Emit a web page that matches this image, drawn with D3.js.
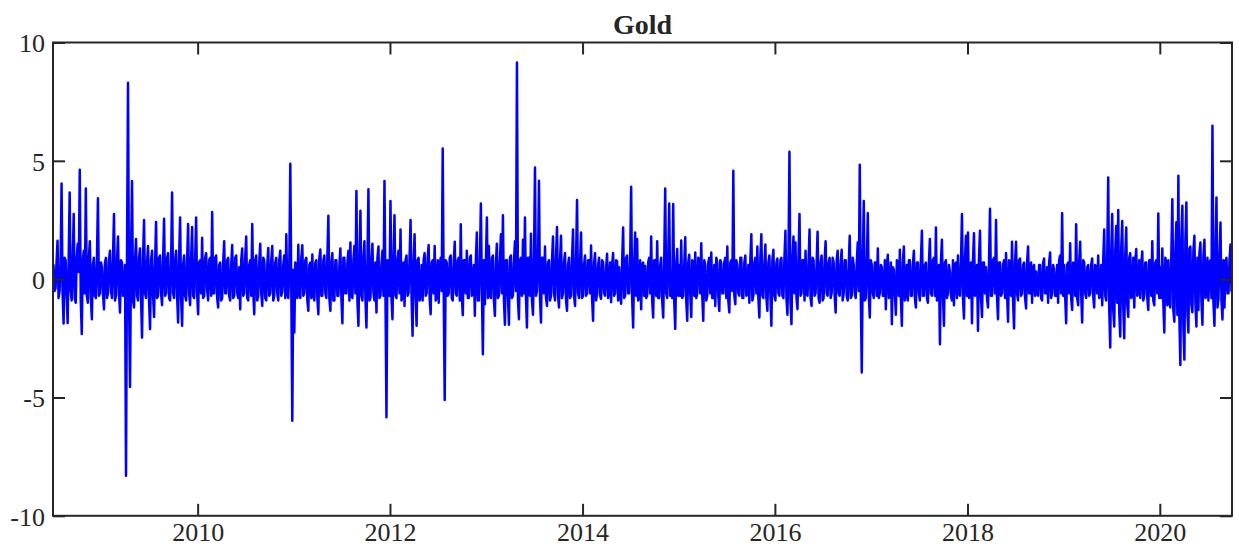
<!DOCTYPE html>
<html>
<head>
<meta charset="utf-8">
<script src="https://cdn.jsdelivr.net/npm/d3@7"></script>
<style>
  body { margin: 0; background: #fff; }
  svg text { font-family: "Liberation Serif", "Times New Roman", serif; fill: #262626; }
</style>
</head>
<body>
<div id="chart"></div>
<script>
// daily gold returns (a value every two or three trading days)
const gold2008 = [0.6, -0.5, -0.4, 0.7, 1.62, -0.8, -0.5, 0.6, 4.04, -0.6, -1.87, 0.9,
  0.8, -0.7, -1.85, 0.8, 3.66, -0.5, -0.9, 0.7, 2.75, -0.8, -1.0, 0.9,
  1.5, 0.3, 4.62, -0.9, -2.32, 0.8, 1.2, -0.6, 3.83, -0.7, -1.0, 0.9,
  1.6, -0.8, -1.69, 0.6, 0.9, -0.7, -0.8, 0.8, 3.42, -0.7, -0.6, 0.7];
const gold2009 = [0.5, -0.6, -1.27, 0.7, 0.9, -0.8, -0.6, 0.8, 1.2, -0.5, -0.8, 0.9,
  2.75, -0.9, -0.7, 0.8, 1.8, -0.6, -1.41, 0.8, 0.7, -0.7, -0.5, 0.6,
  -8.31, 1.2, 8.3, -0.8, -4.56, 1.0, 4.15, -0.9, -1.2, 0.8, 1.7, -0.7,
  -0.9, 0.9, 1.3, -0.8, -2.47, 0.9, 2.5, -0.6, -0.8, 0.7, 1.4, -0.9,
  -2.11, 0.8, 1.2, -0.7, -1.6, 0.6, 2.42, -0.8, -0.7, 0.9, 1.0, -0.6,
  -1.1, 0.8, 2.55, -0.7, -0.6, 0.9, 1.1, -0.8, -0.9, 0.7, 3.66, -0.6,
  -0.8, 0.8, 1.2, -0.7, -1.83, 0.9, 2.61, -0.8, -1.97, 0.6, 1.0, -0.7,
  -0.9, 0.8, 2.33, -0.6, -1.1, 0.9, 2.2, -0.7, -0.8, 0.8, 2.6, -0.6];
const gold2010 = [-1.48, 0.7, 0.8, -0.6, 1.75, -0.8, -0.7, 0.9, 1.1, -0.5, -0.9, 0.8,
  0.9, -0.7, 2.84, -0.6, -0.6, 0.9, 1.0, -0.8, -1.2, 0.6, 0.7, -0.9,
  -0.8, 0.7, 1.6, -0.6, -0.6, 0.8, 0.9, -0.7, -0.9, 0.6, 1.44, -0.8,
  -0.7, 0.9, 1.0, -0.6, -0.8, 0.5, -1.27, 0.8, 1.3, -0.7, -0.6, 0.9,
  1.8, -0.8, -0.9, 0.6, 0.8, -0.7, 2.33, -0.5, -1.48, 0.8, 1.0, -0.9,
  -0.7, 0.7, 1.5, -0.6, -1.13, 0.9, 0.8, -0.8, -0.9, 0.6, 1.32, -0.7,
  -0.6, 0.8, 1.4, -0.9, -0.7, 0.7, 0.9, -0.6, -0.9, 0.8, 1.2, -0.7,
  -0.5, 0.6, 1.0, -0.8, 1.9, -0.6, -0.8, 0.5, 4.88, -0.4, -5.98, 0.4];
const gold2011 = [-2.25, 0.7, 0.6, -0.8, 1.45, -0.6, -0.8, 0.9, 1.43, -0.7, -0.6, 0.8,
  0.9, -0.9, -1.34, 0.6, 0.7, -0.8, 1.04, -0.6, -0.9, 0.7, 0.8, -0.8,
  -1.48, 0.9, 1.25, -0.7, -0.7, 0.8, 1.0, -0.6, -0.8, 0.9, 2.68, -0.8,
  -1.34, 0.7, 1.1, -0.9, -0.9, 0.8, 0.8, -0.7, -0.7, 0.6, 1.3, -0.8,
  -1.86, 0.9, 0.9, -0.6, -0.6, 0.7, 1.2, -0.9, 1.55, -0.7, -0.8, 0.8,
  1.4, -0.6, 3.73, -0.9, -1.97, 0.8, 2.89, -0.7, -0.9, 0.9, 1.6, -0.8,
  -2.04, 0.7, 3.8, -0.9, -0.8, 0.8, 1.5, -0.6, -0.9, 0.7, -1.41, 0.9,
  1.38, -0.8, -0.7, 0.6, 1.2, -0.7, 4.15, -0.6, -5.84, 0.8, 0.6, -0.7];
const gold2012 = [3.3, -0.8, -1.69, 0.9, 2.7, -0.7, -0.8, 0.8, 1.2, -0.6, 2.1, -0.9,
  -0.7, 0.7, -1.13, 0.8, 1.0, -0.7, -0.6, 0.9, 2.5, -0.8, -2.39, 0.7,
  1.9, -0.6, -1.97, 0.8, 0.9, -0.9, -0.7, 0.6, -0.9, 0.8, 1.1, -0.7,
  -0.6, 0.9, 1.44, -0.8, -1.48, 0.7, 0.8, -0.6, 1.4, -0.9, -0.7, 0.8,
  -1.0, 0.6, 0.9, -0.5, 5.52, -0.6, -5.11, 0.8, 0.7, -0.7, -0.6, 0.9,
  1.0, -0.8, -0.9, 0.7, 1.58, -0.6, -0.7, 0.8, 0.9, -0.9, 2.32, -0.7,
  -1.52, 0.8, 0.8, -0.6, 1.2, -0.8, -0.8, 0.9, 1.0, -0.7, -0.6, 0.6,
  -1.55, 0.8, 1.97, -0.9, -0.9, 0.7, 3.2, -0.5, -3.17, 0.8, -1.06, 0.7];
const gold2013 = [2.61, -0.8, 1.4, -0.7, -0.8, 0.9, 1.0, -0.9, -1.55, 0.7, 1.5, -0.8,
  -0.7, 0.8, 1.9, -0.6, 2.7, -0.9, -1.93, 0.8, 0.8, -0.7, -1.93, 0.9,
  1.0, -0.8, -0.7, 0.7, 1.6, -0.5, 9.15, -0.9, -1.69, 0.8, 0.9, -0.7,
  1.67, -0.6, 2.6, -0.8, -2.04, 0.9, 0.9, -0.7, 1.92, -0.9, -1.5, 0.8,
  4.72, -0.7, -0.5, 0.6, 4.16, -0.8, -1.83, 0.9, 0.9, -0.6, 1.38, -0.8,
  -1.13, 0.7, 0.8, -0.9, -0.7, 0.8, 1.8, -0.6, -0.9, 0.9, 2.2, -0.7,
  -1.2, 0.8, 1.83, -0.8, -0.6, 0.7, 1.1, -0.9, -1.34, 0.6, 0.9, -0.8,
  -0.7, 0.9, 2.1, -0.7, -1.13, 0.8, 3.34, -0.6, -0.8, 0.7, 1.97, -0.8];
const gold2014 = [-0.7, 0.6, 1.0, -0.7, -0.6, 0.8, 0.8, -0.6, 1.42, -0.8, -1.76, 0.7,
  1.1, -0.9, -0.6, 0.6, 0.9, -0.7, -0.83, 0.8, 0.7, -0.6, -0.7, 0.5,
  1.07, -0.8, -0.5, 0.7, -0.97, 0.6, 1.1, -0.7, -0.6, 0.8, 0.75, -0.9,
  0.5, -0.6, -1.04, 0.7, 2.18, -0.8, -0.7, 0.9, 1.0, -0.6, -0.6, 0.7,
  3.9, -0.8, -2.04, 0.6, 1.97, -0.7, 1.7, -0.9, -0.8, 0.8, -1.27, 0.6,
  0.7, -0.7, 0.56, -0.8, -0.7, 0.7, 0.9, -0.6, 1.8, -0.9, -1.62, 0.8,
  0.8, -0.7, 1.6, -0.8, -0.8, 0.6, 0.9, -0.9, -1.62, 0.7, 3.83, -0.6,
  -0.8, 0.8, 3.2, -0.7, 0.3, -0.8, 3.18, -0.9, -2.1, 0.6, 1.27, -0.7];
const gold2015 = [0.6, -0.7, 1.63, -0.8, -0.7, 0.6, 1.77, -0.9, -1.76, 0.7, 1.03, -0.6,
  -1.6, 0.8, 0.7, -0.7, 1.13, -0.8, -0.6, 0.9, 0.8, -0.6, 1.52, -0.7,
  -1.76, 0.8, 0.6, -0.9, -0.7, 0.7, 0.9, -0.6, 1.13, -0.8, -0.8, 0.6,
  -1.13, 0.9, 0.7, -0.7, -1.34, 0.8, 0.68, -0.6, -0.6, 0.7, 0.9, -0.8,
  1.38, -0.9, -1.41, 0.7, 0.8, -0.5, 4.58, -0.7, -1.06, 0.8, 0.6, -0.6,
  -0.7, 0.9, 0.9, -0.8, -0.8, 0.7, 1.0, -0.7, -0.6, 0.6, -1.0, 0.8,
  1.9, -0.9, -0.7, 0.7, 0.9, -0.6, 1.38, -0.8, -1.62, 0.9, 1.9, -0.7,
  -0.8, 0.6, 1.46, -0.8, -1.34, 0.7, 1.0, -0.6, -1.97, 0.8, 1.24, -0.7];
const gold2016 = [-0.9, 0.7, 0.87, -0.6, -0.7, 0.8, 0.9, -0.7, -0.8, 0.9, 2.04, -0.8,
  -1.5, 0.7, 5.38, -0.9, -1.9, 0.8, 1.8, -0.6, 1.55, -0.8, -1.27, 0.9,
  2.75, -0.7, -0.6, 0.8, 0.8, -0.9, 1.2, -0.6, -0.7, 0.7, 2.1, -0.8,
  -1.13, 0.9, 0.8, -0.7, -0.6, 0.6, 2.0, -0.8, -1.0, 0.7, 1.0, -0.9,
  -0.8, 0.8, 1.6, -0.6, -0.7, 0.7, 0.9, -0.8, -0.6, 0.9, 0.7, -0.7,
  -1.41, 0.8, 1.2, -0.6, -0.7, 0.7, 1.24, -0.9, -0.6, 0.8, 0.8, -0.7,
  -0.9, 0.6, 1.83, -0.8, -0.7, 0.9, 0.6, -0.6, -0.8, 0.7, 1.55, -0.5,
  4.83, -0.6, -3.94, 0.7, 3.3, -0.9, -0.8, 0.6, 2.79, -0.7, -1.62, 0.8];
const gold2017 = [0.6, -0.6, -0.8, 0.7, 0.7, -0.7, 1.3, -0.8, -0.6, 0.6, 0.5, -0.7,
  -0.7, 0.8, -1.27, 0.6, 1.03, -0.8, -0.6, 0.7, -1.9, 0.5, 0.4, -0.6,
  -1.5, 0.8, 0.7, -0.7, 1.24, -0.8, -1.97, 0.7, 1.38, -0.9, -0.6, 0.6,
  -0.9, 0.8, 0.8, -0.7, -0.7, 0.6, 1.2, -0.8, -1.2, 0.7, 0.7, -0.6,
  -0.9, 0.8, 2.04, -0.7, -0.7, 0.6, 0.7, -0.8, -1.0, 0.7, 1.7, -0.6,
  -0.7, 0.8, 0.9, -0.7, 2.18, -0.9, -0.8, 0.6, -2.75, 0.8, 1.67, -0.7,
  -1.97, 0.7, 0.8, -0.8, -0.6, 0.6, 0.3, -0.7, -0.9, 0.8, -1.1, 0.6,
  0.7, -0.8, 1.0, -0.6, -0.7, 0.7, 2.75, -0.8, -1.66, 0.9, 1.83, -0.7];
const gold2018 = [1.97, -0.8, -0.7, 0.7, -1.86, 0.8, 1.94, -0.7, -0.6, 0.6, -2.18, 0.9,
  2.04, -0.8, -1.6, 0.7, 0.7, -0.6, 0.5, -0.8, -1.2, 0.7, 2.98, -0.7,
  -0.7, 0.8, 0.9, -0.6, 2.5, -0.8, -1.69, 0.7, 0.7, -0.7, -0.6, 0.6,
  0.8, -0.8, 1.1, -0.6, -1.8, 0.8, 0.7, -0.7, 1.58, -0.9, -2.08, 0.7,
  1.58, -0.6, -0.9, 0.8, 0.87, -0.7, -0.6, 0.6, 0.7, -0.8, -1.24, 0.7,
  1.38, -0.6, -0.6, 0.7, -1.0, 0.5, 0.6, -0.7, 0.32, -0.6, -0.7, 0.6,
  0.6, -0.8, -0.9, 0.7, 0.87, -0.6, -0.6, 0.5, -1.0, 0.7, 1.13, -0.8,
  -0.6, 0.6, 0.4, -0.7, -0.7, 0.6, -1.0, 0.8, 1.0, -0.6, 2.79, -0.7];
const gold2019 = [0.6, -0.7, -1.86, 0.6, 0.7, -0.6, 1.52, -0.8, -1.3, 0.7, 0.6, -0.7,
  2.32, -0.8, -1.1, 0.7, 1.58, -0.6, -1.83, 0.8, 0.7, -0.6, -0.8, 0.5,
  0.6, -0.7, -0.6, 0.6, 0.87, -0.7, -1.2, 0.6, 0.5, -0.6, 1.0, -0.8,
  -0.7, 0.6, -1.1, 0.8, 2.1, -0.7, -0.9, 0.9, 4.3, -1.2, -2.89, 1.1,
  2.75, -1.3, -2.0, 1.2, 2.25, -1.0, 2.92, -1.4, -2.42, 1.3, 2.46, -1.2,
  -2.5, 1.0, 2.18, -1.1, -1.6, 0.9, 1.1, -0.8, -0.7, 0.9, -1.2, 0.8,
  1.27, -0.7, -0.6, 0.8, -0.8, 0.6, 1.17, -0.9, -0.7, 0.7, 0.7, -0.8,
  -1.3, 0.8, 0.8, -0.7, 1.6, -0.9, -1.1, 0.7, 0.8, -0.6, 2.77, -0.8];
const gold2020 = [0.5, -0.8, 1.3, -1.0, -2.25, 0.9, 0.7, -1.1, 0.8, -0.9, -1.2, 1.0,
  3.38, -1.3, -1.8, 1.2, 2.4, -1.5, 4.37, -1.6, -3.63, 1.8, 3.1, -2.0,
  -3.4, 1.6, 3.24, -1.4, -2.25, 1.3, 1.38, -1.1, -1.4, 1.2, 1.83, -1.0,
  -2.0, 0.9, -1.3, 1.1, 1.55, -0.9, -1.93, 1.0, 1.67, -0.8, -0.7, 0.9,
  -0.9, 0.7, 0.8, -0.8, 6.48, -1.0, -1.97, 1.1, 3.45, -1.2, -0.8, 1.0,
  2.39, -0.9, -1.7, 0.8, -1.2, 0.7, 0.9, -0.6, -0.6, 0.8, 1.46, -0.5];

// each block covers [from, to)
const blocks = [
  { from: new Date(2008, 6, 1), to: new Date(2009, 0, 1), values: gold2008 },
  { from: new Date(2009, 0, 1), to: new Date(2010, 0, 1), values: gold2009 },
  { from: new Date(2010, 0, 1), to: new Date(2011, 0, 1), values: gold2010 },
  { from: new Date(2011, 0, 1), to: new Date(2012, 0, 1), values: gold2011 },
  { from: new Date(2012, 0, 1), to: new Date(2013, 0, 1), values: gold2012 },
  { from: new Date(2013, 0, 1), to: new Date(2014, 0, 1), values: gold2013 },
  { from: new Date(2014, 0, 1), to: new Date(2015, 0, 1), values: gold2014 },
  { from: new Date(2015, 0, 1), to: new Date(2016, 0, 1), values: gold2015 },
  { from: new Date(2016, 0, 1), to: new Date(2017, 0, 1), values: gold2016 },
  { from: new Date(2017, 0, 1), to: new Date(2018, 0, 1), values: gold2017 },
  { from: new Date(2018, 0, 1), to: new Date(2019, 0, 1), values: gold2018 },
  { from: new Date(2019, 0, 1), to: new Date(2020, 0, 1), values: gold2019 },
  { from: new Date(2020, 0, 1), to: new Date(2020, 9, 1), values: gold2020 }
];

const xTickYears = [2010, 2012, 2014, 2016, 2018, 2020];
const yTicks = [-10, -5, 0, 5, 10];

const width = 1239;
const height = 555;
const plotLeft = 53, plotRight = 1232, plotTop = 42.5, plotBottom = 515.8;
const axisColor = '#262626';

// spread each block's values evenly over its dates
const series = [];
blocks.forEach(b => {
  const n = b.values.length;
  const span = b.to - b.from;
  b.values.forEach((v, i) => {
    series.push({ date: new Date(+b.from + (i + 0.5) / n * span), value: v });
  });
});

const x = d3.scaleTime()
  .domain([new Date(2008, 6, 1), new Date(2020, 9, 1)])
  .range([plotLeft, plotRight]);

const y = d3.scaleLinear()
  .domain([-10, 10])
  .range([plotBottom, plotTop]);

const svg = d3.select('#chart')
  .append('svg')
  .attr('width', width)
  .attr('height', height);

// the line
const line = d3.line()
  .x(d => x(d.date))
  .y(d => y(d.value));

svg.append('path')
  .datum(series)
  .attr('fill', 'none')
  .attr('stroke', '#0000ff')
  .attr('stroke-width', 2.5)
  .attr('stroke-linejoin', 'round')
  .attr('stroke-linecap', 'round')
  .attr('d', line);

// axes, ticks pointing inwards on all four sides
const xTickDates = xTickYears.map(yr => new Date(yr, 0, 1));

const xBottom = svg.append('g')
  .attr('transform', `translate(0,${plotBottom})`)
  .call(d3.axisBottom(x).tickValues(xTickDates).tickSizeInner(-12).tickSizeOuter(0)
    .tickPadding(20).tickFormat(d3.timeFormat('%Y')));

const xTop = svg.append('g')
  .attr('transform', `translate(0,${plotTop})`)
  .call(d3.axisTop(x).tickValues(xTickDates).tickSizeInner(-12).tickSizeOuter(0)
    .tickFormat(''));

const yLeft = svg.append('g')
  .attr('transform', `translate(${plotLeft},0)`)
  .call(d3.axisLeft(y).tickValues(yTicks).tickSizeInner(-12).tickSizeOuter(0)
    .tickPadding(8).tickFormat(d => String(d)));

const yRight = svg.append('g')
  .attr('transform', `translate(${plotRight},0)`)
  .call(d3.axisRight(y).tickValues(yTicks).tickSizeInner(-12).tickSizeOuter(0)
    .tickFormat(''));

[xBottom, xTop, yLeft, yRight].forEach(g => {
  g.select('.domain').remove();
  g.selectAll('.tick line').attr('stroke', axisColor).attr('stroke-width', 2);
  g.selectAll('.tick text')
    .attr('font-family', '"Liberation Serif", "Times New Roman", serif')
    .attr('font-size', 26)
    .attr('fill', axisColor);
});

xBottom.selectAll('.tick text').attr('dy', '0.2em');
yLeft.selectAll('.tick text').attr('dy', '0.36em');

// box
svg.append('rect')
  .attr('x', plotLeft)
  .attr('y', plotTop)
  .attr('width', plotRight - plotLeft)
  .attr('height', plotBottom - plotTop)
  .attr('fill', 'none')
  .attr('stroke', axisColor)
  .attr('stroke-width', 2);

// title
svg.append('text')
  .attr('x', (plotLeft + plotRight) / 2)
  .attr('y', 34)
  .attr('text-anchor', 'middle')
  .attr('font-size', 28)
  .attr('font-weight', 'bold')
  .attr('fill', '#000')
  .text('Gold');
</script>
</body>
</html>
